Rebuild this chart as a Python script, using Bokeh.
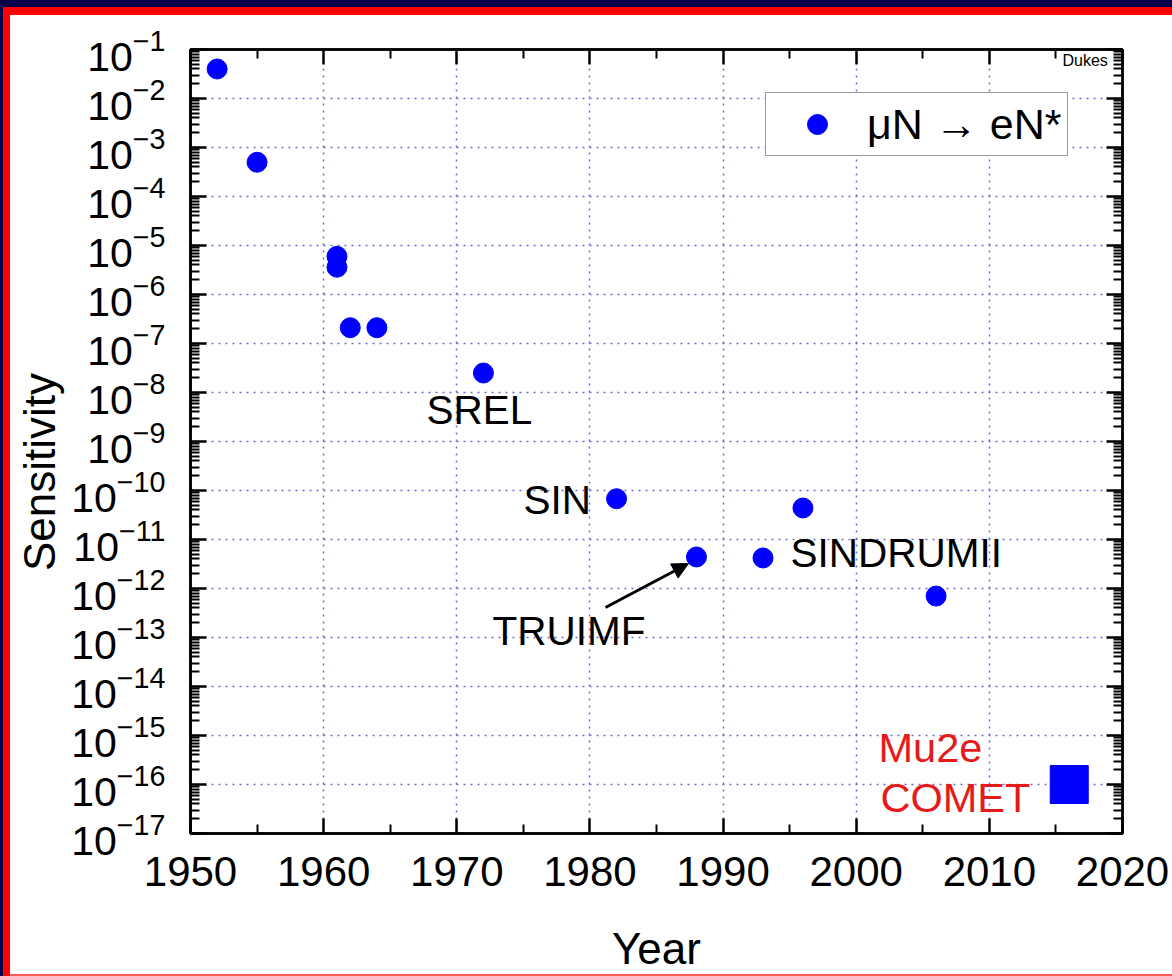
from bokeh.plotting import figure
from bokeh.models import (LinearAxis, LogAxis, FixedTicker, Label, Arrow,
                          NormalHead, Legend, LegendItem, Range1d, ColumnDataSource)
from bokeh.embed import file_html
from bokeh.resources import INLINE

# ---------------- data ----------------
years = [1952, 1955, 1961, 1961, 1962, 1964, 1972, 1982, 1988, 1993, 1996, 2006]
sensitivity = [4.0e-2, 5.0e-4, 6.0e-6, 3.6e-6, 2.1e-7, 2.1e-7, 2.5e-8,
               6.8e-11, 4.4e-12, 4.2e-12, 4.4e-11, 7.0e-13]
future_years = [2016]
future_sensitivity = [1.0e-16]
legend_label = "\u03bcN \u2192 eN*"

x_major_ticks = [1950, 1960, 1970, 1980, 1990, 2000, 2010, 2020]
x_minor_ticks = [1955, 1965, 1975, 1985, 1995, 2005, 2015]
y_exponents = list(range(-17, 0))

experiment_labels = ["SREL", "SIN", "SINDRUMII", "TRUIMF"]
future_labels = ["Mu2e", "COMET"]

# ---------------- layout helpers (reference pixel -> data) ----------------
FL, FR, FT, FB = 190, 1122, 49, 833


def xd(px):
    return 1950 + (px - FL) * 70.0 / (FR - FL)


def yd(py):
    return 10 ** (-1 - (py - FT) * 16.0 / (FB - FT))


FONT = "Liberation Sans"
BLUE = "#0000ff"
RED = "#e51a1a"
GRID = "#6c6cd0"

y_major = [10.0 ** k for k in y_exponents]
y_minor = [m * 10.0 ** k for k in y_exponents[:-1] for m in range(2, 10)]

p = figure(x_range=Range1d(1950, 2020), y_range=Range1d(1e-17, 1e-1),
           y_axis_type="log", frame_width=932, frame_height=784,
           min_border_left=190, min_border_right=50, min_border_top=49,
           min_border_bottom=143, output_backend="svg", toolbar_location=None,
           background_fill_color="white", border_fill_color=None,
           outline_line_color="black", outline_line_width=2.5)

p.styles = {
    "background-color": "white",
    "box-shadow": ("inset 3px 7px 0 0 #000048, inset 10px 15px 0 0 #ff0000, "
                   "inset 0 -2px 0 0 #ff5a5a"),
}

xt = FixedTicker(ticks=x_major_ticks, minor_ticks=x_minor_ticks)
yt = FixedTicker(ticks=y_major, minor_ticks=y_minor)


def style_axis(ax, major_in, minor_in, show_labels):
    ax.axis_line_color = "black"
    ax.axis_line_width = 2.5
    ax.major_tick_in = major_in
    ax.major_tick_out = 0
    ax.minor_tick_in = minor_in
    ax.minor_tick_out = 0
    ax.major_tick_line_color = "black"
    ax.major_tick_line_width = 2.5
    ax.minor_tick_line_color = "black"
    ax.minor_tick_line_width = 2
    ax.major_label_text_font = FONT
    if show_labels:
        ax.major_label_text_color = "black"
    else:
        ax.major_label_text_color = None
        ax.major_label_text_font_size = "10px"
        ax.major_label_standoff = 0


xa = p.xaxis[0]
xa.ticker = xt
style_axis(xa, 15, 9, True)
xa.major_label_text_font_size = "42px"
xa.major_label_standoff = 23
xa.axis_label = "Year"
xa.axis_label_text_font = FONT
xa.axis_label_text_font_size = "44px"
xa.axis_label_text_font_style = "normal"
xa.axis_label_text_color = "black"
xa.axis_label_standoff = 35

ya = p.yaxis[0]
ya.ticker = yt
style_axis(ya, 16, 9, True)
ya.major_label_text_font_size = "41px"
ya.major_label_standoff = 25
# trailing no-break spaces shift the centred label down, as in the reference
ya.axis_label = "Sensitivity" + "\u00a0" * 5
ya.axis_label_text_font = FONT
ya.axis_label_text_font_size = "44px"
ya.axis_label_text_font_style = "normal"
ya.axis_label_text_color = "black"
ya.axis_label_standoff = 4

top = LinearAxis(ticker=FixedTicker(ticks=x_major_ticks, minor_ticks=x_minor_ticks))
style_axis(top, 15, 9, False)
p.add_layout(top, "above")

right = LogAxis(ticker=FixedTicker(ticks=y_major, minor_ticks=y_minor))
style_axis(right, 16, 9, False)
p.add_layout(right, "right")

p.xgrid.ticker = xt
p.ygrid.ticker = yt
for g in (p.xgrid[0], p.ygrid[0]):
    g.grid_line_color = GRID
    g.grid_line_width = 1.5
    g.grid_line_dash = "2 5"
    g.minor_grid_line_color = None

src = ColumnDataSource(dict(year=years, sens=sensitivity))
r = p.scatter("year", "sens", source=src, marker="circle", size=20,
              fill_color=BLUE, line_color=BLUE)
fsrc = ColumnDataSource(dict(year=future_years, sens=future_sensitivity))
p.scatter("year", "sens", source=fsrc, marker="square", size=38,
          fill_color=BLUE, line_color=BLUE)

legend = Legend(items=[LegendItem(label=legend_label, renderers=[r])],
                location=(575, 677), padding=6, glyph_width=90, glyph_height=50,
                label_standoff=5, label_text_font=FONT, label_text_font_size="43px",
                label_text_color="black", border_line_color="#333333",
                border_line_width=1.5, background_fill_color="white",
                background_fill_alpha=1.0, margin=0)
p.add_layout(legend)

# text annotations (positions in reference pixels)
exp_pos = [(426, 409), (523, 499), (790, 552), (492, 630)]
for txt, (lx, ly) in zip(experiment_labels, exp_pos):
    p.add_layout(Label(x=xd(lx), y=yd(ly), text=txt, text_font=FONT,
                       text_font_size="40.5px", text_color="black",
                       text_align="left", text_baseline="middle"))

fut_pos = [(878, 747), (880, 797)]
for txt, (lx, ly) in zip(future_labels, fut_pos):
    p.add_layout(Label(x=xd(lx), y=yd(ly), text=txt, text_font=FONT,
                       text_font_size="41.5px", text_color=RED,
                       text_align="left", text_baseline="middle"))

p.add_layout(Label(x=xd(1062), y=yd(60), text="Dukes", text_font=FONT,
                   text_font_size="16px", text_color="black",
                   text_align="left", text_baseline="middle"))

p.add_layout(Arrow(end=NormalHead(size=16, fill_color="black", line_color="black"),
                   x_start=xd(605), y_start=yd(607), x_end=xd(688), y_end=yd(563),
                   line_color="black", line_width=3))

open("out.html", "w").write(file_html(p, INLINE))
